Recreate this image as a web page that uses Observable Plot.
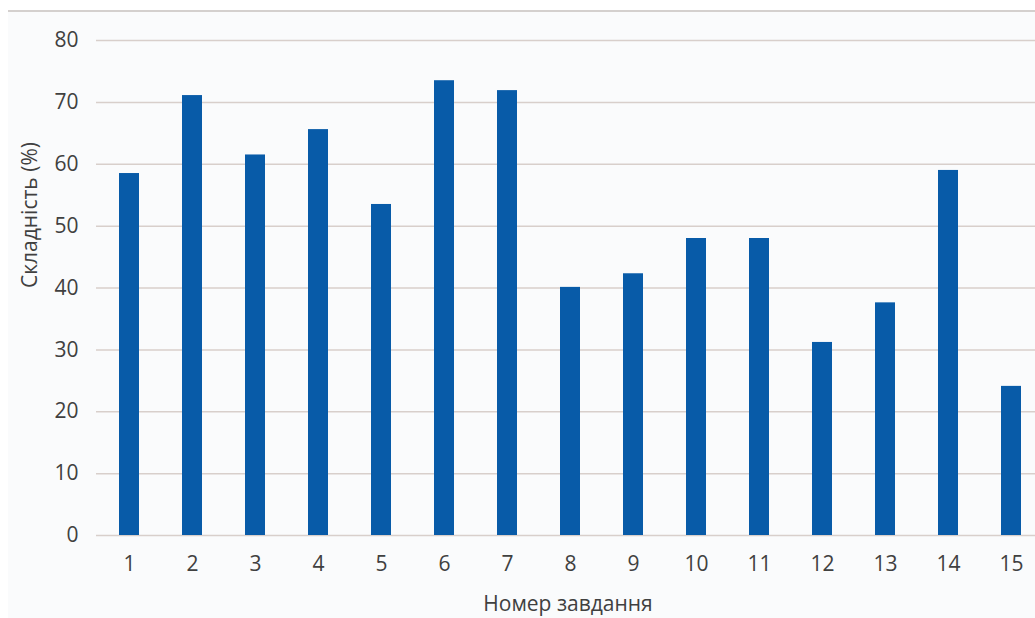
<!DOCTYPE html>
<html>
<head>
<meta charset="utf-8">
<script src="https://cdn.jsdelivr.net/npm/d3@7"></script>
<script src="https://cdn.jsdelivr.net/npm/@observablehq/plot@0.6"></script>
<style>
  html, body { margin: 0; padding: 0; background: #ffffff; overflow: hidden; }
  #wrap { position: absolute; left: 8px; top: 10px; width: 1027px; height: 608px; background: #fafbfc; border-top: 2px solid #d4d0ce; }
  #chart { position: absolute; left: 0; top: 0; }
  svg { overflow: hidden; }
</style>
</head>
<body>
<div id="wrap"></div>
<div id="chart"></div>
<script>
const tasks = ["1","2","3","4","5","6","7","8","9","10","11","12","13","14","15"];
const difficulty = [58.5, 71.1, 61.5, 65.6, 53.5, 73.5, 71.9, 40.1, 42.3, 48.0, 48.0, 31.2, 37.6, 59.0, 24.1];
const yTicks = [0, 10, 20, 30, 40, 50, 60, 70, 80];
const yLabel = "Складність (%)";
const xLabel = "Номер завдання";

const data = tasks.map((t, i) => ({task: t, value: difficulty[i]}));

const chart = Plot.plot({
  width: 1035,
  height: 618,
  marginLeft: 96,
  marginRight: -10,
  marginTop: 40,
  marginBottom: 83,
  style: {background: "transparent", fontFamily: "'Open Sans', sans-serif", fontSize: "21px", color: "#404040"},
  x: {domain: tasks, paddingInner: 0.68, paddingOuter: 0.34},
  y: {domain: [0, 80]},
  marks: [
    Plot.ruleY(yTicks, {stroke: "#d8cfcb", strokeWidth: 1.5}),
    Plot.barY(data, {x: "task", y: "value", fill: "#085ba8"}),
    Plot.axisY(yTicks, {tickSize: 0, tickPadding: 18, fontSize: 21, fill: "#404040", label: null}),
    Plot.axisX({tickSize: 0, tickPadding: 21, fontSize: 21, fill: "#404040", label: null}),
    Plot.text([yLabel], {frameAnchor: "left", dx: -66, rotate: -90, fontSize: 21, fill: "#404040"}),
    Plot.text([xLabel], {frameAnchor: "bottom", x: null, dx: -3, dy: 75, fontSize: 21, fill: "#404040"})
  ]
});
document.getElementById("chart").appendChild(chart);
</script>
</body>
</html>
